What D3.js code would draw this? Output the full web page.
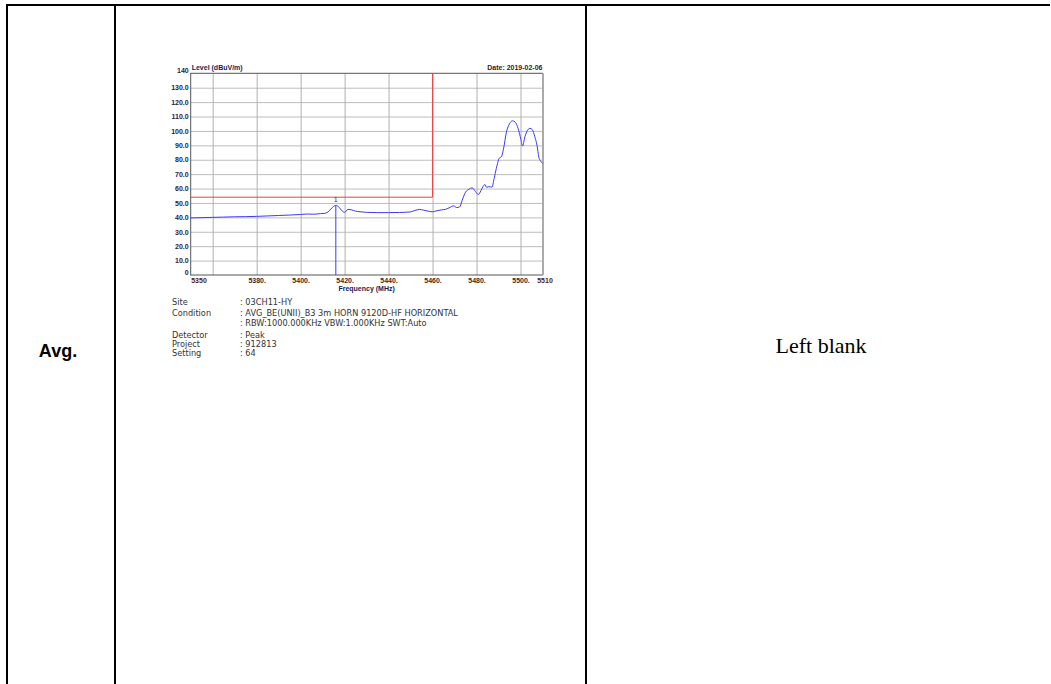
<!DOCTYPE html>
<html><head><meta charset="utf-8">
<script src="https://cdn.jsdelivr.net/npm/d3@7"></script>
<style>
html,body{margin:0;padding:0;background:#fff;}
svg{display:block;}
</style></head>
<body>
<svg id="c" width="1051" height="684"></svg>
<script>
// ---- data ----
const freqs = [5350,5355,5360,5365,5370,5375,5380,5385,5390,5395,5400,5403,5406,5409,5411,5413,5414.5,5416,5417.5,5418.5,5420,5421.5,5423,5425,5427,5430,5435,5440,5445,5450,5452,5454,5456,5458,5460,5462,5464,5466,5468,5469.5,5471,5472.3,5473.5,5475,5476.5,5478,5479.5,5480.8,5482,5483,5483.8,5484.6,5485.5,5487,5488,5489,5490.3,5491.3,5492.2,5493.6,5495,5496.3,5497.5,5498.9,5500.2,5500.9,5502,5503.2,5504.3,5505.4,5506.5,5507.5,5508.3,5509.2,5510];
const levels = [39.6,39.8,40.0,40.2,40.4,40.5,40.7,41.0,41.3,41.6,42.0,42.3,42.2,42.6,42.8,44.5,47.0,48.3,47.0,45.0,43.5,45.5,45.3,44.3,43.9,43.5,43.3,43.3,43.4,43.8,44.8,45.5,45.0,44.3,43.9,44.6,45.2,45.6,47.0,48.0,46.8,47.2,52,57.5,59.5,60.5,58,55.9,58.5,61.5,62.8,60.8,61.3,61,67,74,81,82,87,99.3,105,107,106.3,101.7,94,89.5,95.9,100.5,101.8,100.8,96,90,82,79,77.4];
const yTicks = [0,10,20,30,40,50,60,70,80,90,100,110,120,130,140];
const xGrid = [5360,5380,5400,5420,5440,5460,5480,5500];
const xLabels = [5350,5380,5400,5420,5440,5460,5480,5500,5510];
const limitLevel = 54, limitEndFreq = 5460;
const markerFreq = 5416, markerLevel = 48.3, markerLabel = "1";
const infoKeys = ["Site","Condition","","Detector","Project","Setting"];
const infoVals = [": 03CH11-HY",": AVG_BE(UNII)_B3 3m HORN 9120D-HF HORIZONTAL",": RBW:1000.000KHz VBW:1.000KHz SWT:Auto",": Peak",": 912813",": 64"];

const svg = d3.select("#c");

// ---- table ----
const tbl = svg.append("g").attr("stroke","#000").attr("stroke-width",2);
tbl.append("line").attr("x1",6).attr("x2",1050).attr("y1",5).attr("y2",5);
[7,115,586].forEach(x=>tbl.append("line").attr("x1",x).attr("x2",x).attr("y1",4).attr("y2",684));
svg.append("text").attr("x",58).attr("y",357).attr("text-anchor","middle")
  .attr("font-family","Liberation Sans, Arial, sans-serif").attr("font-weight","bold").attr("font-size",18).text("Avg.");
svg.append("text").attr("x",821).attr("y",353).attr("text-anchor","middle")
  .attr("font-family","Liberation Serif, Times New Roman, serif").attr("font-size",22).text("Left blank");

// ---- chart ----
const L=190.7, R=542.5, T=73.3, B=275;
const x = d3.scaleLinear().domain([5350,5510]).range([L,R]);
const y = d3.scaleLinear().domain([0,140]).range([B,T]);
const g = svg.append("g");

// grid
g.append("g").attr("transform",`translate(${L},0)`)
  .call(d3.axisLeft(y).tickValues(yTicks.slice(1,-1)).tickSize(-(R-L)).tickFormat(""))
  .call(a=>{a.select(".domain").remove();a.selectAll("line").attr("stroke","#bdbdbd");});
g.append("g").attr("transform",`translate(0,${B})`)
  .call(d3.axisBottom(x).tickValues(xGrid).tickSize(-(B-T)).tickFormat(""))
  .call(a=>{a.select(".domain").remove();a.selectAll("line").attr("stroke","#b0b0b0");});

// frame
g.append("rect").attr("x",L).attr("y",T).attr("width",R-L).attr("height",B-T)
  .attr("fill","none").attr("stroke","#555").attr("stroke-width",1);
g.append("line").attr("x1",R+0.5).attr("x2",R+0.5).attr("y1",T).attr("y2",B).attr("stroke","#aaa").attr("stroke-width",2);

// limit line
g.append("path").attr("fill","none").attr("stroke","#e84040").attr("stroke-width",1)
  .attr("d",d3.line()([[x(5350),y(limitLevel)],[x(limitEndFreq),y(limitLevel)],[x(limitEndFreq),y(140)]]));

// trace
const pts = freqs.map((f,i)=>[f,levels[i]]);
g.append("path").datum(pts).attr("fill","none").attr("stroke","#3a3aff").attr("stroke-width",1)
  .attr("d",d3.line().x(d=>x(d[0])).y(d=>y(d[1])).curve(d3.curveMonotoneX));

// marker
g.append("line").attr("x1",x(markerFreq)).attr("x2",x(markerFreq)).attr("y1",y(markerLevel)).attr("y2",B)
  .attr("stroke","#3a3aff").attr("stroke-width",1);
g.append("text").attr("x",x(markerFreq)).attr("y",y(markerLevel)-3).attr("text-anchor","middle")
  .attr("font-family","Liberation Sans, Arial, sans-serif").attr("font-size",7).attr("fill","#2020c0").text(markerLabel);

// y labels
const lblFont = "Liberation Sans, Arial, sans-serif";
g.append("g").attr("transform",`translate(${L-1},0)`)
  .call(d3.axisLeft(y).tickValues(yTicks).tickSize(0).tickPadding(1)
    .tickFormat(v=> v===0 ? "0" : v===140 ? "140" : v.toFixed(1)))
  .call(a=>{a.select(".domain").remove();
    a.selectAll("text").attr("font-family",lblFont).attr("font-weight","bold").attr("font-size",7).attr("fill","#2a1a40")
     .attr("dy",(d)=> d===140 ? "-0.1em" : d===0 ? "-0.1em" : "0.32em");});

// x labels
g.append("g").attr("transform",`translate(0,${B})`)
  .call(d3.axisBottom(x).tickValues(xLabels).tickSize(0).tickPadding(3)
    .tickFormat(v=> (v===5350||v===5510) ? String(v) : v+"."))
  .call(a=>{a.select(".domain").remove();
    a.selectAll("text").attr("font-family",lblFont).attr("font-weight","bold").attr("font-size",7).attr("fill","#4a2418")
     .attr("text-anchor",d=> d===5350 ? "start" : "middle")
     .attr("dx",d=> d===5510 ? "2" : "0");});

g.append("text").attr("x",(L+R)/2).attr("y",291).attr("text-anchor","middle")
  .attr("font-family",lblFont).attr("font-weight","bold").attr("font-size",7).attr("fill","#1a1a50").text("Frequency (MHz)");
g.append("text").attr("x",L+1).attr("y",70).attr("font-family",lblFont).attr("font-weight","bold")
  .attr("font-size",7).attr("fill","#1a1a50").text("Level (dBuV/m)");
g.append("text").attr("x",R).attr("y",70).attr("text-anchor","end").attr("font-family",lblFont).attr("font-weight","bold")
  .attr("font-size",7).attr("fill","#3a2020").text("Date: 2019-02-06");

// info
const infoY = [305,316,325.5,338,347,356];
const info = svg.append("g").attr("font-family","DejaVu Sans, sans-serif").attr("font-size",8.2).attr("fill","#333");
infoKeys.forEach((k,i)=>{
  if(k) info.append("text").attr("x",172).attr("y",infoY[i]).text(k);
  info.append("text").attr("x",240).attr("y",infoY[i]).text(infoVals[i]);
});
</script>
</body></html>
